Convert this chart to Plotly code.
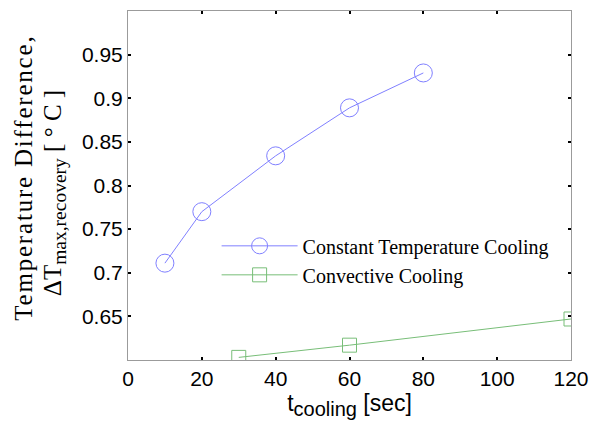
import plotly.graph_objects as go

# Data
ct_x = [10, 20, 40, 60, 80]
ct_y = [0.711, 0.770, 0.834, 0.889, 0.929]
cv_x = [30, 60, 120]
cv_y = [0.603, 0.617, 0.647]

x_ticks = [0, 20, 40, 60, 80, 100, 120]
y_ticks = [0.6, 0.65, 0.7, 0.75, 0.8, 0.85, 0.9, 0.95, 1.0]
y_ticktext = ["", "0.65", "0.7", "0.75", "0.8", "0.85", "0.9", "0.95", ""]

blue = "rgb(128,128,255)"
green = "rgb(120,190,120)"
sans = "Arial, Liberation Sans, sans-serif"
serif = "Times New Roman, Liberation Serif, serif"

fig = go.Figure()
fig.add_trace(go.Scatter(
    x=ct_x, y=ct_y, mode="lines+markers", name="Constant Temperature Cooling",
    line=dict(color=blue, width=1),
    marker=dict(symbol="circle-open", size=18, color=blue, line=dict(width=1, color=blue)),
))
fig.add_trace(go.Scatter(
    x=cv_x, y=cv_y, mode="lines+markers", name="Convective Cooling",
    line=dict(color=green, width=1),
    marker=dict(symbol="square-open", size=14, color=green, line=dict(width=1, color=green)),
))

axis_common = dict(
    showline=True, linecolor="rgb(155,155,155)", linewidth=1, mirror="ticks",
    ticks="inside", ticklen=3, tickwidth=2, tickcolor="black",
    showgrid=False, zeroline=False,
    tickfont=dict(family=sans, size=21, color="black"),
)

fig.update_xaxes(range=[0, 120], tickvals=x_ticks, **axis_common,
                 title=dict(text='t<sub><span style="font-size:20px">cooling</span></sub> [sec]',
                            font=dict(family=sans, size=23, color="black"),
                            standoff=2))
fig.update_yaxes(range=[0.6, 1.0], tickvals=y_ticks, ticktext=y_ticktext, **axis_common)

# y-axis title, two lines placed individually
fig.add_annotation(
    xref="paper", yref="paper", x=-0.2348, y=0.522, xanchor="center", yanchor="middle",
    textangle=-90, showarrow=False,
    text='<span style="letter-spacing:1.8px">Temperature Difference,</span>',
    font=dict(family=serif, size=25, color="black"),
)
fig.add_annotation(
    xref="paper", yref="paper", x=-0.167, y=0.478, xanchor="center", yanchor="middle",
    textangle=-90, showarrow=False,
    text='ΔT<sub><span style="font-size:19.5px">max,recovery</span></sub> [ ° C ]',
    font=dict(family=serif, size=25, color="black"),
)

fig.update_layout(
    width=601, height=433,
    margin=dict(l=128, r=30, t=11, b=73),
    paper_bgcolor="white", plot_bgcolor="white",
    showlegend=True,
    legend=dict(x=0.2, y=0.383, xanchor="left", yanchor="top",
                bgcolor="rgba(0,0,0,0)", itemwidth=76,
                font=dict(family=serif, size=20, color="black"),
                tracegroupgap=0),
)

fig.write_html("out.html", config={"displayModeBar": False},
               post_script="document.body.style.margin='0px';")
